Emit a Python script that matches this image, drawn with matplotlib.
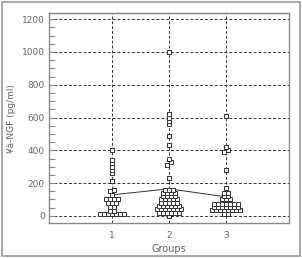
import numpy as np
import matplotlib
matplotlib.use('Agg')
import matplotlib.pyplot as plt
from matplotlib.patches import Rectangle

# values (pg/ml)
group1 = [10, 10, 10, 10, 10, 10, 10, 30, 30, 55, 55, 80, 80, 80,
          100, 100, 100, 100, 125, 150, 160, 210, 260, 280, 300, 320, 340, 400]
group2 = [0, 20, 20, 20, 20, 20, 20, 40, 40, 40, 40, 40, 40, 40,
          60, 60, 60, 60, 60, 60, 80, 80, 80, 80, 80, 100, 100, 100, 100, 100,
          120, 120, 120, 120, 140, 140, 140, 140, 160, 160, 160,
          230, 310, 330, 350, 430, 490, 560, 580, 600, 620, 1000]
group3 = [10, 10, 35, 35, 35, 35, 35, 35, 35, 35, 55, 55, 55, 55, 55, 55, 55,
          75, 75, 75, 75, 75, 75, 75, 100, 100, 100, 120, 120, 140, 140, 170,
          280, 390, 400, 420, 610]
groups = [group1, group2, group3]
positions = [1, 2, 3]
centre_line = [128, 165, 116]
yticks = [0, 200, 400, 600, 800, 1000, 1200]

gray = '#666666'


def swarm_offsets(vals, binw=20.0, dx=0.07):
    vals = np.asarray(vals, dtype=float)
    bins = np.round(vals / binw).astype(int)
    offs = np.zeros(len(vals))
    for b in np.unique(bins):
        idx = np.where(bins == b)[0]
        n = len(idx)
        offs[idx] = (np.arange(n) - (n - 1) / 2.0) * dx
    return offs


fig = plt.figure(figsize=(3.02, 2.58), dpi=100)
fig.patches.append(Rectangle((0.008, 0.008), 0.984, 0.984, transform=fig.transFigure,
                             fill=False, edgecolor='#9a9a9a', lw=1.2))
ax = fig.add_axes([0.162, 0.136, 0.795, 0.813])

for x in positions:
    ax.axvline(x, color='#333333', ls=(0, (3, 2)), lw=0.7, zorder=1)
for y in yticks:
    ax.axhline(y, color='#333333', ls=(0, (3, 2)), lw=0.7, zorder=1)

ax.plot(positions, centre_line, color='#333333', lw=0.7, zorder=2)

for x, vals in zip(positions, groups):
    xs = x + swarm_offsets(vals)
    ax.scatter(xs, vals, marker='s', s=11, facecolor='white', edgecolor='#333333',
               linewidths=0.7, zorder=3)

ax.set_xlim(-0.1, 4.1)
ax.set_ylim(-43, 1237)
ax.set_xticks(positions)
ax.set_xticklabels(['1', '2', '3'])
ax.set_yticks(yticks)
ax.set_yticks(np.arange(0, 1201, 50), minor=True)
ax.tick_params(axis='x', length=0, labelsize=6.5, colors=gray, pad=6)
ax.tick_params(axis='y', which='both', direction='in', length=4, width=0.8,
               color='#888888', labelsize=6.5, labelcolor=gray, pad=3)
for sp in ax.spines.values():
    sp.set_color('#888888')
    sp.set_linewidth(1.0)

ax.set_ylabel('¥â-NGF (pg/ml)', fontsize=6.5, color=gray, labelpad=4)
ax.set_xlabel('Groups', fontsize=7, color=gray, labelpad=3)

fig.savefig('out.png', dpi=100)
